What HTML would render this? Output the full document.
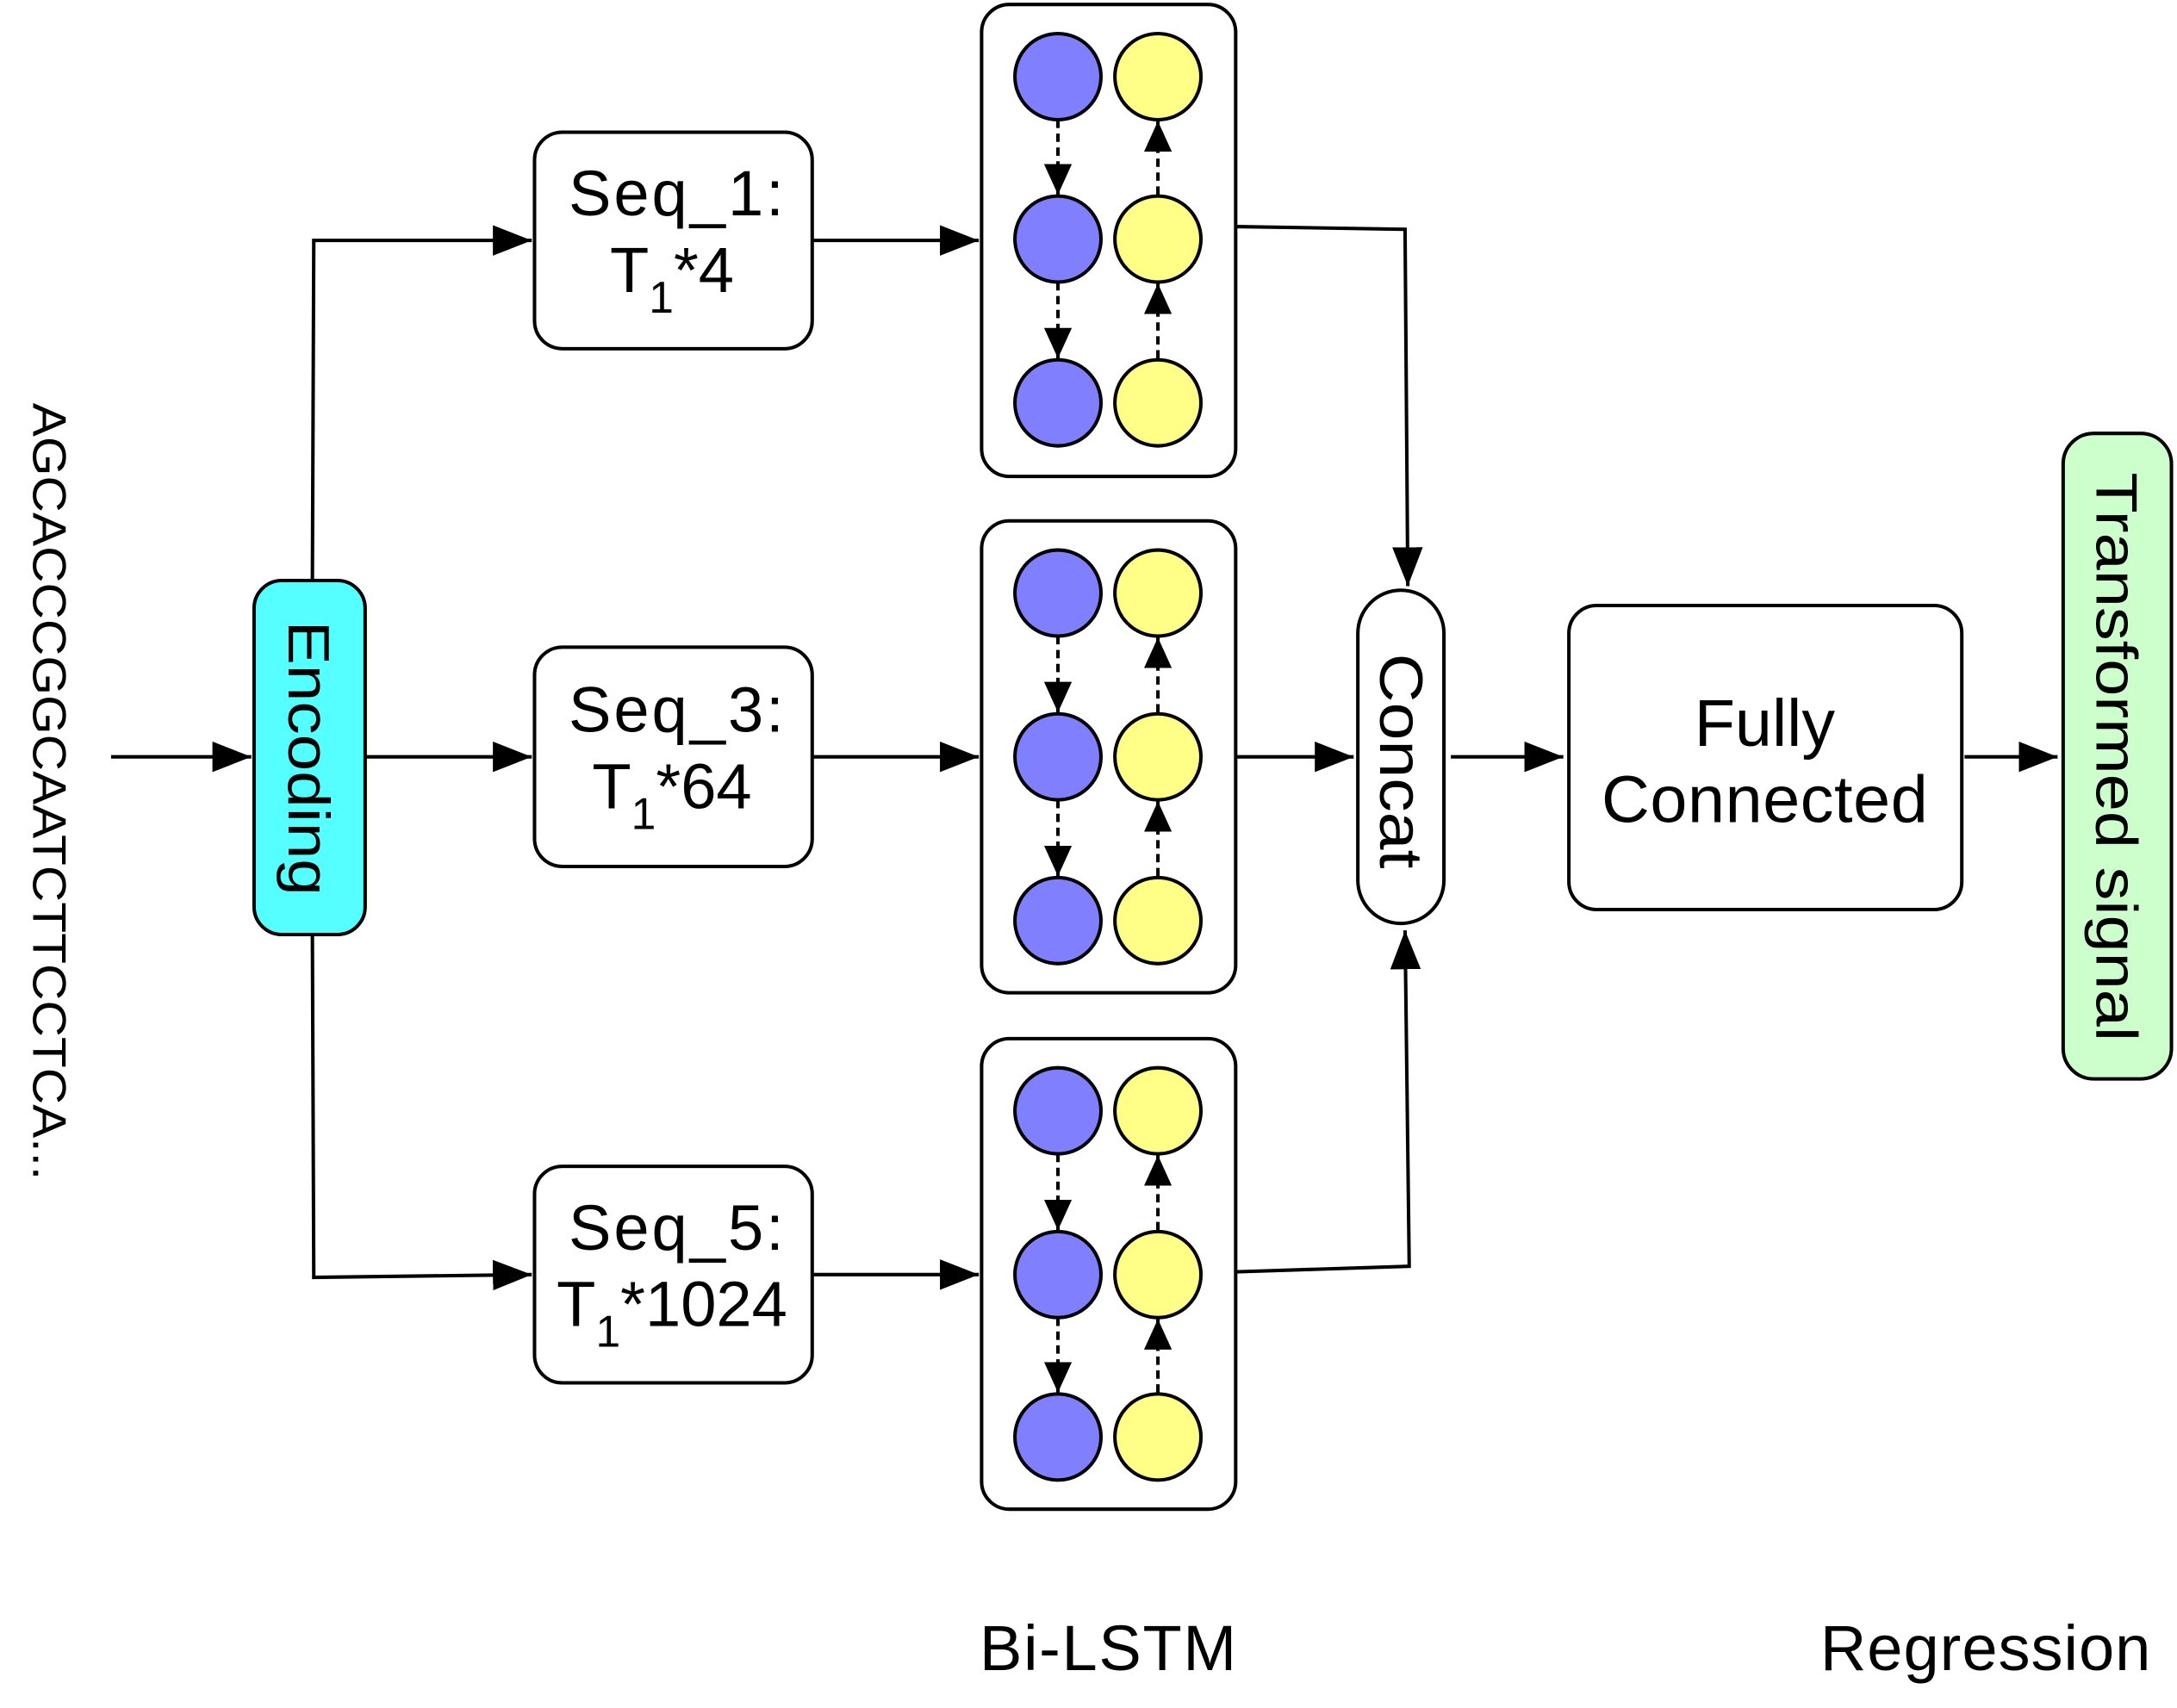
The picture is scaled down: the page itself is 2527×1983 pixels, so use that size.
<!DOCTYPE html>
<html><head><meta charset="utf-8"><style>html,body{margin:0;padding:0;background:#fff}svg{display:block}</style></head>
<body>
<svg width="2527" height="1983" viewBox="0 0 1568 1230" xmlns="http://www.w3.org/2000/svg" font-family="Liberation Sans, Arial, sans-serif">
<defs>
<marker id="A" viewBox="0 0 10 10" refX="10" refY="5" markerWidth="28" markerHeight="22" markerUnits="userSpaceOnUse" orient="auto" preserveAspectRatio="none"><path d="M0,0 L10,5 L0,10 z" fill="#000"/></marker>
<marker id="s" viewBox="0 0 10 10" refX="10" refY="5" markerWidth="22" markerHeight="20" markerUnits="userSpaceOnUse" orient="auto" preserveAspectRatio="none"><path d="M0,0 L10,5 L0,10 z" fill="#000"/></marker>
</defs>
<text transform="translate(24,290) rotate(90)" font-size="34" fill="#000" textLength="560" lengthAdjust="spacingAndGlyphs">AGCACCCGGCAATCTTCCTCA...</text>
<g stroke="#000" stroke-width="2.5" fill="none" marker-end="url(#A)">
<line x1="80" y1="545" x2="181" y2="545"/>
<polyline points="225,418 226,173 383,173"/>
<line x1="263" y1="545" x2="383" y2="545"/>
<polyline points="225,673 226,920 383,918"/>
<line x1="585" y1="173" x2="705" y2="173"/>
<line x1="585" y1="545" x2="705" y2="545"/>
<line x1="585" y1="918" x2="705" y2="918"/>
<polyline points="890,163 1012,165 1014,422"/>
<line x1="890" y1="545" x2="975" y2="545"/>
<polyline points="890,916 1015,912 1012,670"/>
<line x1="1045" y1="545" x2="1126" y2="545"/>
<line x1="1415" y1="545" x2="1482" y2="545"/>
</g>
<rect x="183" y="418" width="80" height="255" rx="20" fill="#55FFFF" stroke="#000" stroke-width="2.5"/>
<text transform="translate(208,546) rotate(90)" font-size="42" text-anchor="middle" textLength="198" lengthAdjust="spacingAndGlyphs">Encoding</text>
<g fill="#fff" stroke="#000" stroke-width="2.5">
<rect x="385" y="95" width="200" height="156" rx="20"/>
<rect x="385" y="466" width="200" height="158" rx="20"/>
<rect x="385" y="840" width="200" height="156" rx="20"/>
<rect x="707" y="3" width="183" height="340" rx="20"/>
<rect x="707" y="375" width="183" height="340" rx="20"/>
<rect x="707" y="748" width="183" height="339" rx="20"/>
<rect x="978" y="425" width="62" height="240" rx="31"/>
<rect x="1130" y="436" width="283" height="219" rx="20"/>
</g>
<rect x="1486" y="312" width="78" height="465" rx="22" fill="#CCFFCC" stroke="#000" stroke-width="2.5"/>
<g font-size="46" text-anchor="middle" fill="#000" lengthAdjust="spacingAndGlyphs">
<text x="487" y="155" textLength="155">Seq_1:</text>
<text x="484" y="210">T<tspan font-size="32" dy="15">1</tspan><tspan dy="-15">*4</tspan></text>
<text x="487" y="527" textLength="155">Seq_3:</text>
<text x="484" y="582">T<tspan font-size="32" dy="15">1</tspan><tspan dy="-15">*64</tspan></text>
<text x="487" y="900" textLength="155">Seq_5:</text>
<text x="484" y="955">T<tspan font-size="32" dy="15">1</tspan><tspan dy="-15">*1024</tspan></text>
<text x="1271" y="537" font-size="48">Fully</text>
<text x="1271" y="592" font-size="48" textLength="235">Connected</text>
<text x="798" y="1203" textLength="185">Bi-LSTM</text>
<text x="1430" y="1203" textLength="238">Regression</text>
</g>
<text transform="translate(994,548) rotate(90)" font-size="44" text-anchor="middle" textLength="155" lengthAdjust="spacingAndGlyphs">Concat</text>
<text transform="translate(1510,545) rotate(90)" font-size="42" text-anchor="middle" textLength="410" lengthAdjust="spacingAndGlyphs">Transformed signal</text>
<g stroke="#000" stroke-width="2.5">
<g>
<circle cx="762" cy="55" r="31" fill="#8080FF"/><circle cx="834" cy="55" r="31" fill="#FFFF88"/>
<circle cx="762" cy="172" r="31" fill="#8080FF"/><circle cx="834" cy="172" r="31" fill="#FFFF88"/>
<circle cx="762" cy="290" r="31" fill="#8080FF"/><circle cx="834" cy="290" r="31" fill="#FFFF88"/>
<g fill="none" stroke-dasharray="6,4" marker-end="url(#s)">
<line x1="762" y1="86" x2="762" y2="140"/><line x1="762" y1="203" x2="762" y2="258"/>
<line x1="834" y1="140" x2="834" y2="87"/><line x1="834" y1="258" x2="834" y2="204"/>
</g>
</g>
<g transform="translate(0,372)">
<circle cx="762" cy="55" r="31" fill="#8080FF"/><circle cx="834" cy="55" r="31" fill="#FFFF88"/>
<circle cx="762" cy="173" r="31" fill="#8080FF"/><circle cx="834" cy="173" r="31" fill="#FFFF88"/>
<circle cx="762" cy="291" r="31" fill="#8080FF"/><circle cx="834" cy="291" r="31" fill="#FFFF88"/>
<g fill="none" stroke-dasharray="6,4" marker-end="url(#s)">
<line x1="762" y1="86" x2="762" y2="141"/><line x1="762" y1="204" x2="762" y2="259"/>
<line x1="834" y1="141" x2="834" y2="87"/><line x1="834" y1="259" x2="834" y2="205"/>
</g>
</g>
<g transform="translate(0,745)">
<circle cx="762" cy="55" r="31" fill="#8080FF"/><circle cx="834" cy="55" r="31" fill="#FFFF88"/>
<circle cx="762" cy="173" r="31" fill="#8080FF"/><circle cx="834" cy="173" r="31" fill="#FFFF88"/>
<circle cx="762" cy="290" r="31" fill="#8080FF"/><circle cx="834" cy="290" r="31" fill="#FFFF88"/>
<g fill="none" stroke-dasharray="6,4" marker-end="url(#s)">
<line x1="762" y1="86" x2="762" y2="141"/><line x1="762" y1="204" x2="762" y2="258"/>
<line x1="834" y1="141" x2="834" y2="87"/><line x1="834" y1="258" x2="834" y2="205"/>
</g>
</g>
</g>
</svg>
</body></html>
